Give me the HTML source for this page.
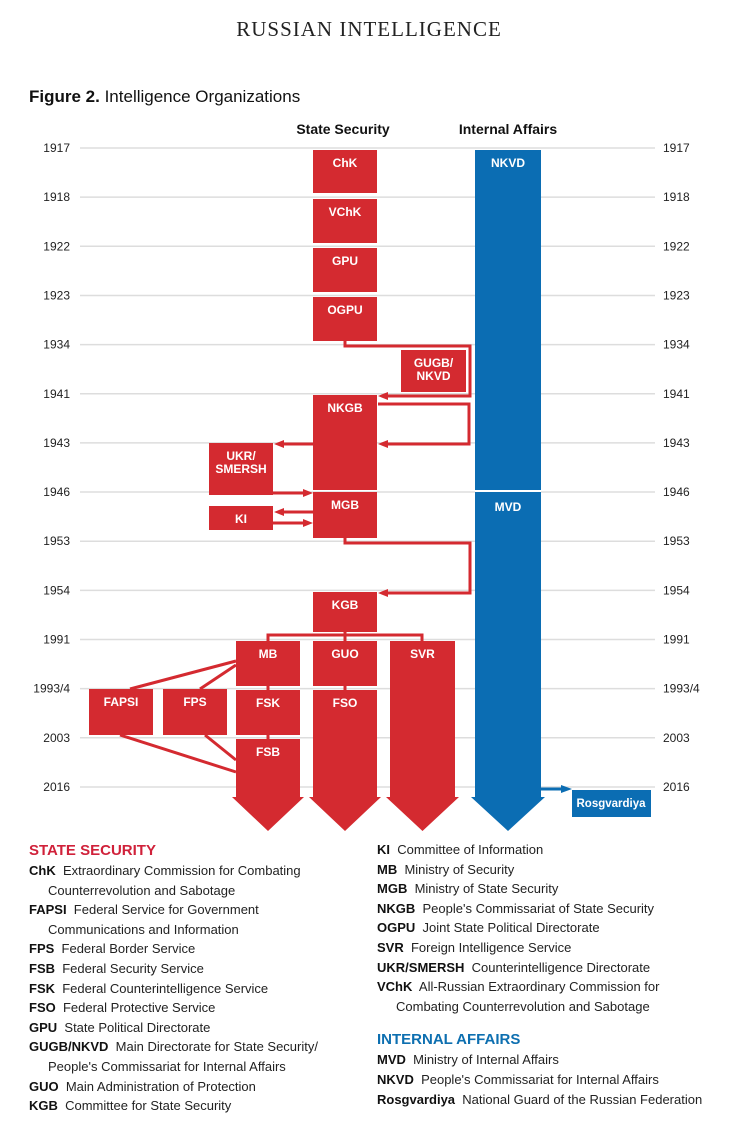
<!DOCTYPE html>
<html><head><meta charset="utf-8"><style>
body{margin:0;background:#fff;width:738px;height:1121px;overflow:hidden;font-family:"Liberation Sans",sans-serif}
.t{position:absolute}
.leg{position:absolute;font-size:13px;color:#222;line-height:19.6px}
.leg b{color:#111}
.ind{padding-left:19px}
</style></head><body>
<div class="t" style="left:0;width:738px;top:17px;text-align:center;font-family:'Liberation Serif',serif;font-size:21px;letter-spacing:1px;color:#222">RUSSIAN INTELLIGENCE</div>
<div class="t" style="left:29px;top:87px;font-size:17px;color:#111"><b>Figure 2.</b> Intelligence Organizations</div>
<svg id="ch" width="738" height="840" style="position:absolute;left:0;top:0"></svg>
<div class="leg" style="left:29px;top:841px;width:340px">
<div style="color:#d0213a;font-weight:bold;font-size:15px;line-height:20px">STATE SECURITY</div>
<div><b>ChK</b>&nbsp; Extraordinary Commission for Combating</div><div class="ind">Counterrevolution and Sabotage</div>
<div><b>FAPSI</b>&nbsp; Federal Service for Government</div><div class="ind">Communications and Information</div>
<div><b>FPS</b>&nbsp; Federal Border Service</div>
<div><b>FSB</b>&nbsp; Federal Security Service</div>
<div><b>FSK</b>&nbsp; Federal Counterintelligence Service</div>
<div><b>FSO</b>&nbsp; Federal Protective Service</div>
<div><b>GPU</b>&nbsp; State Political Directorate</div>
<div><b>GUGB/NKVD</b>&nbsp; Main Directorate for State Security/</div><div class="ind">People's Commissariat for Internal Affairs</div>
<div><b>GUO</b>&nbsp; Main Administration of Protection</div>
<div><b>KGB</b>&nbsp; Committee for State Security</div>
</div>
<div class="leg" style="left:377px;top:840px;width:360px">
<div><b>KI</b>&nbsp; Committee of Information</div>
<div><b>MB</b>&nbsp; Ministry of Security</div>
<div><b>MGB</b>&nbsp; Ministry of State Security</div>
<div><b>NKGB</b>&nbsp; People's Commissariat of State Security</div>
<div><b>OGPU</b>&nbsp; Joint State Political Directorate</div>
<div><b>SVR</b>&nbsp; Foreign Intelligence Service</div>
<div><b>UKR/SMERSH</b>&nbsp; Counterintelligence Directorate</div>
<div><b>VChK</b>&nbsp; All-Russian Extraordinary Commission for</div><div class="ind">Combating Counterrevolution and Sabotage</div>
<div style="color:#0d6fb0;font-weight:bold;font-size:15px;line-height:20px;margin-top:14px">INTERNAL AFFAIRS</div>
<div><b>MVD</b>&nbsp; Ministry of Internal Affairs</div>
<div><b>NKVD</b>&nbsp; People's Commissariat for Internal Affairs</div>
<div><b>Rosgvardiya</b>&nbsp; National Guard of the Russian Federation</div>
</div>
<script>
const years=["1917","1918","1922","1923","1934","1941","1943","1946","1953","1954","1991","1993/4","2003","2016"];
const svg=document.getElementById('ch');const NS='http://www.w3.org/2000/svg';
const R='#d42a30',B='#0b6db3';
function y(i){return 148+i*49.15;}
function el(tag,a,p){const e=document.createElementNS(NS,tag);for(const k in a)e.setAttribute(k,a[k]);(p||svg).appendChild(e);return e;}
function txt(x,yy,s,o){const e=el('text',Object.assign({x:x,y:yy,'font-family':'Liberation Sans, sans-serif','font-size':12,fill:'#222'},o||{}));e.textContent=s;return e;}
years.forEach((v,i)=>{
 const l=el('line',{x1:80,x2:655,y1:y(i),y2:y(i),stroke:'#ddd','stroke-width':1.5});
 
 
 const a=txt(70,y(i)+4,v,{'text-anchor':'end'});
 
 
 const b=txt(663,y(i)+4,v);
 
 
});
const h1=txt(343,134,'State Security',{'text-anchor':'middle','font-weight':'bold','font-size':14,fill:'#111'});

const h2=txt(508,134,'Internal Affairs',{'text-anchor':'middle','font-weight':'bold','font-size':14,fill:'#111'});

function box(name,x,w,y1,y2,label,c){
 const g=el('g',{});
 
 
 el('rect',{x:x,y:y1,width:w,height:y2-y1,fill:c||R},g);
 if(label){const lines=label.split('|');lines.forEach((s,k)=>txt(x+w/2,y1+17+k*13,s,{'text-anchor':'middle','font-weight':'bold',fill:'#fff','font-size':12},g));}
}
function arrowCol(name,x,w,y1,label,c){
 const g=el('g',{});
 
 
 el('polygon',{points:`${x},${y1} ${x+w},${y1} ${x+w},797 ${x+w+4},797 ${x+w/2},831 ${x-4},797 ${x},797`,fill:c||R},g);
 if(label)txt(x+w/2,y1+17,label,{'text-anchor':'middle','font-weight':'bold',fill:'#fff','font-size':12},g);
}
arrowCol('nkvd-mvd',475,66,150,'NKVD',B);
el('line',{x1:475,x2:541,y1:491,y2:491,stroke:'#fff','stroke-width':2});
txt(508,511,'MVD',{'text-anchor':'middle','font-weight':'bold',fill:'#fff'});
box('chk',313,64,150,193,'ChK');
box('vchk',313,64,199,243,'VChK');
box('gpu',313,64,248,292,'GPU');
box('ogpu',313,64,297,341,'OGPU');
box('gugb-nkvd',401,65,350,392,'GUGB/|NKVD');
box('nkgb',313,64,395,490,'NKGB');
box('mgb',313,64,492,538,'MGB');
box('ukr-smersh',209,64,443,495,'UKR/|SMERSH');
box('ki',209,64,506,530,'KI');
box('kgb',313,64,592,632,'KGB');
arrowCol('svr',390,65,641,'SVR');
arrowCol('fso',313,64,690,'FSO');
box('guo',313,64,641,686,'GUO');
arrowCol('fsb',236,64,739,'FSB');
box('mb',236,64,641,686,'MB');
box('fsk',236,64,690,735,'FSK');
box('fapsi',89,64,689,735,'FAPSI');
box('fps',163,64,689,735,'FPS');
function pl(pts){el('polyline',{points:pts,fill:'none',stroke:R,'stroke-width':3});}
function head(x,yy,dir){el('polygon',{points:`${x},${yy} ${x-10*dir},${yy-4} ${x-10*dir},${yy+4}`,fill:R});}
pl('345,341 345,346 470,346 470,396 388,396');head(378,396,-1);
pl('378,404 469,404 469,444 388,444');head(378,444,-1);
pl('313,444 284,444');head(274,444,-1);
pl('273,493 303,493');head(313,493,1);
pl('313,512 284,512');head(274,512,-1);
pl('273,523 303,523');head(313,523,1);
pl('345,538 345,543 470,543 470,593 388,593');head(378,593,-1);
pl('268,641 268,635 422,635 422,641');pl('345,632 345,641');
el('line',{x1:268,x2:268,y1:686,y2:690,stroke:R,'stroke-width':3});
el('line',{x1:268,x2:268,y1:735,y2:739,stroke:R,'stroke-width':3});
el('line',{x1:345,x2:345,y1:686,y2:690,stroke:R,'stroke-width':3});
[[130,689,236,661],[200,689,236,665],[120,735,236,772],[205,735,236,760]].forEach(p=>el('line',{x1:p[0],y1:p[1],x2:p[2],y2:p[3],stroke:R,'stroke-width':3}));
el('line',{x1:541,x2:562,y1:789,y2:789,stroke:B,'stroke-width':3});
el('polygon',{points:'572,789 561,785 561,793',fill:B});
box('rosgvardiya',572,79,790,817,'',B);
txt(611,807,'Rosgvardiya',{'text-anchor':'middle','font-weight':'bold',fill:'#fff','font-size':11.5});
</script>
</body></html>
